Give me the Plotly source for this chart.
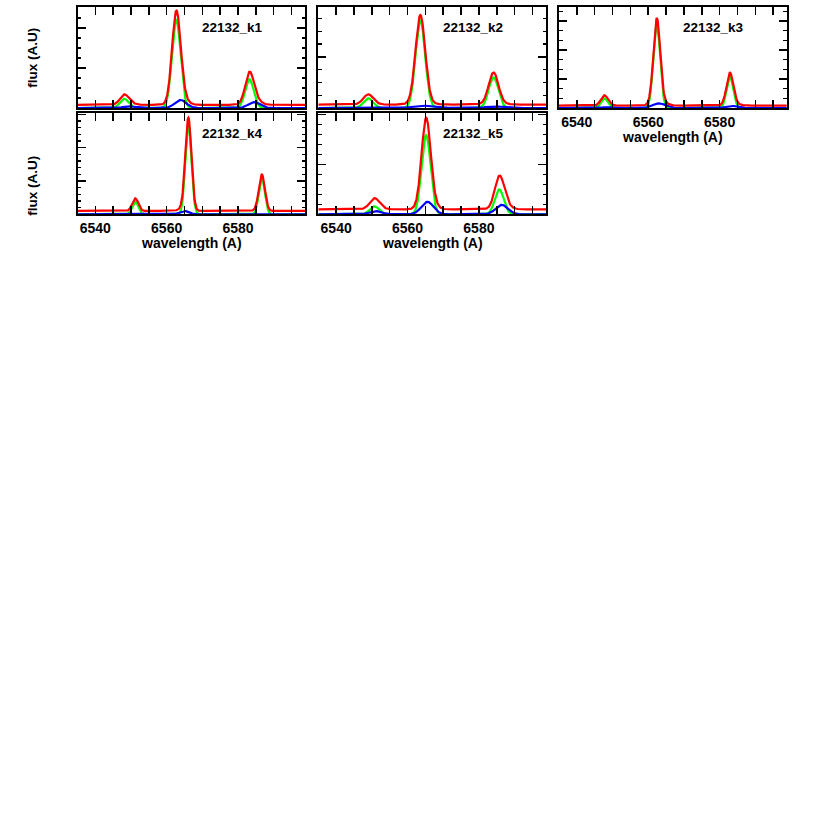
import numpy as np
import plotly.graph_objects as go

# ---------------- data ----------------
panel_labels = ["22132_k1", "22132_k2", "22132_k3", "22132_k4", "22132_k5"]
continuum = [0.08, 0.067, 0.08, 0.10, 0.10]

# narrow (green) component: [NII]6548, H-alpha, [NII]6583
narrow_center = [
    [6548.1, 6562.7, 6583.2],
    [6549.0, 6563.6, 6584.1],
    [6547.7, 6562.4, 6582.9],
    [6551.2, 6566.1, 6586.7],
    [6550.7, 6565.2, 6585.7],
]
narrow_amp = [
    [0.23, 2.20, 0.72],
    [0.19, 1.71, 0.60],
    [0.33, 2.87, 1.07],
    [0.38, 2.73, 1.08],
    [0.16, 1.59, 0.50],
]
narrow_sigma = [1.2, 1.35, 0.95, 0.85, 1.25]

# second (blue) component
broad_center = [
    [6549.3, 6563.9, 6584.5],
    [6549.5, 6564.0, 6584.5],
    [6548.3, 6563.0, 6583.5],
    [6550.0, 6565.0, 6585.6],
    [6551.0, 6565.6, 6586.4],
]
broad_amp = [
    [0.04, 0.20, 0.145],
    [0.012, 0.047, 0.03],
    [0.03, 0.16, 0.07],
    [0.0, 0.10, 0.02],
    [0.066, 0.25, 0.19],
]
broad_sigma = [1.6, 2.6, 1.8, 1.3, 1.7]

x_tick_values = [6540, 6560, 6580]
x_tick_labels = ["6540", "6560", "6580"]

# ---------------- layout helpers ----------------
W = H = 830
FONT = "Liberation Sans"
col_x = [(77.5, 305.0), (318.3, 546.0), (559.0, 786.7)]
row_y = [(7.0, 108.0), (113.0, 214.3)]
cells = [(0, 0), (0, 1), (0, 2), (1, 0), (1, 1)]
y_top = [2.52, 1.98, 3.48, 3.04, 2.03]
y_minor = [0.25, 0.25, 1 / 3, 0.2, 0.2]
show_xlabels = [False, False, True, True, True]

wl = np.arange(6535.0, 6599.01, 0.1)


def profile(centers, amps, sigma):
    y = np.zeros_like(wl)
    for c, a in zip(centers, amps):
        y += a * np.exp(-0.5 * ((wl - c) / sigma) ** 2)
    return y


fig = go.Figure()
annotations = []
layout = {}

for i in range(5):
    r, c = cells[i]
    ax = "" if i == 0 else str(i + 1)
    xname, yname = "x" + ax, "y" + ax
    green = profile(narrow_center[i], narrow_amp[i], narrow_sigma[i])
    blue = profile(broad_center[i], broad_amp[i], broad_sigma[i])
    red = green + blue + continuum[i]
    for yy, col in ((green, "#00ff00"), (blue, "#0000ff"), (red, "#ff0000")):
        fig.add_trace(go.Scatter(x=wl, y=yy, mode="lines", xaxis=xname, yaxis=yname,
                                 line=dict(color=col, width=2.2), hoverinfo="skip",
                                 showlegend=False))

    x0, x1 = col_x[c]
    y0, y1 = row_y[r]
    layout["xaxis" + ax] = dict(
        domain=[x0 / W, x1 / W], anchor=yname, range=[6535, 6598.8],
        showgrid=False, zeroline=False, showline=True, linecolor="black", linewidth=2,
        mirror="allticks", ticks="inside", ticklen=8, tickwidth=1.5, tickcolor="black",
        tickvals=x_tick_values, ticktext=x_tick_labels,
        showticklabels=show_xlabels[i],
        tickfont=dict(family=FONT, size=14, color="black", weight="bold"),
        minor=dict(dtick=5, tick0=6535, ticks="inside", ticklen=8, tickwidth=1.5,
                   tickcolor="black", showgrid=False),
    )
    layout["yaxis" + ax] = dict(
        domain=[1 - y1 / H, 1 - y0 / H], anchor=xname, range=[0, y_top[i]],
        showgrid=False, zeroline=False, showline=True, linecolor="black", linewidth=2,
        mirror="allticks", ticks="inside", ticklen=8, tickwidth=1.5, tickcolor="black",
        dtick=1, tick0=0, showticklabels=False,
        minor=dict(dtick=y_minor[i], tick0=0, ticks="inside", ticklen=3.5, tickwidth=1.5,
                   tickcolor="black", showgrid=False),
    )
    annotations.append(dict(
        text=panel_labels[i], xref=xname + " domain", yref=yname + " domain",
        x=0.68, y=0.795, xanchor="center", yanchor="middle", showarrow=False,
        font=dict(family=FONT, size=13.5, color="black", weight="bold")))
    if show_xlabels[i]:
        annotations.append(dict(
            text="wavelength (A)", xref="paper", yref="paper",
            x=(x0 + x1) / 2 / W, y=1 - (y1 + 29) / H, xanchor="center", yanchor="middle",
            showarrow=False, font=dict(family=FONT, size=14, color="black", weight="bold")))

for yc in (58, 186):
    annotations.append(dict(
        text="flux (A.U)", xref="paper", yref="paper", x=31.7 / W, y=1 - yc / H,
        xanchor="center", yanchor="middle", textangle=-90, showarrow=False,
        font=dict(family=FONT, size=13.5, color="black", weight="bold")))

fig.update_layout(
    width=W, height=H, margin=dict(l=0, r=0, t=0, b=0),
    paper_bgcolor="white", plot_bgcolor="white", showlegend=False,
    hovermode=False, annotations=annotations, **layout)

fig.write_html("out.html",
               config={"displayModeBar": False, "staticPlot": True},
               post_script="document.body.style.margin='0px';"
                           "document.body.style.overflow='hidden';")
